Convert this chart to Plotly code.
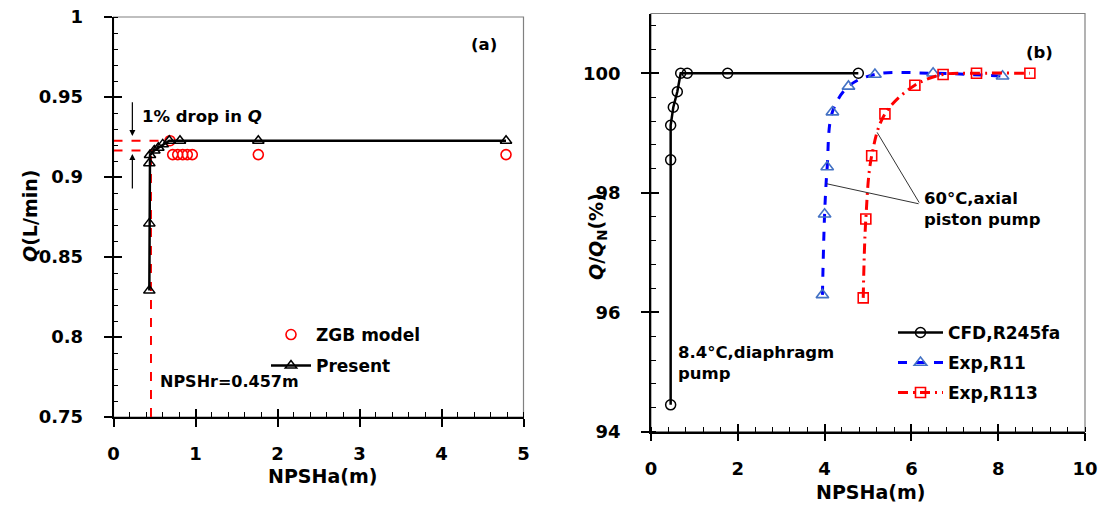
import plotly.graph_objects as go

# ---------------- data: panel (a) ----------------
present_x = [0.437, 0.437, 0.437, 0.445, 0.498, 0.547, 0.600, 0.680, 0.811, 1.766, 4.787]
present_q = [0.829, 0.871, 0.9086, 0.9137, 0.9166, 0.9183, 0.9204, 0.9227, 0.9227, 0.9227, 0.9227]
zgb_x = [0.689, 0.722, 0.783, 0.844, 0.900, 0.961, 1.766, 4.787]
zgb_q = [0.9227, 0.914, 0.914, 0.914, 0.914, 0.914, 0.914, 0.914]

# reference lines (a)
q_nominal = 0.9227
q_drop = 0.9165
npshr = 0.457
ref_upper_x = [0.0, 0.65]
ref_lower_x = [0.0, 0.48]
ref_vert_q = [0.75, q_drop]

# ---------------- data: panel (b) ----------------
cfd_x = [0.453, 0.453, 0.453, 0.514, 0.606, 0.684, 0.836, 1.766, 4.777]
cfd_q = [94.45, 98.55, 99.13, 99.43, 99.69, 100.0, 100.0, 100.0, 100.0]
r11_x = [3.95, 4.00, 4.06, 4.18, 4.55, 5.16, 6.50, 8.10]
r11_q = [96.29, 97.64, 98.43, 99.35, 99.78, 99.98, 100.0, 99.95]
r113_x = [4.89, 4.95, 5.085, 5.39, 6.08, 6.73, 7.50, 8.73]
r113_q = [96.24, 97.56, 98.62, 99.32, 99.80, 99.98, 100.0, 100.0]

FONT = "DejaVu Sans"
W, H = 1103, 507

fig = go.Figure()

# panel (a) reference lines
fig.add_trace(go.Scatter(x=ref_upper_x, y=[q_nominal, q_nominal], mode="lines",
                         line=dict(color="red", width=2, dash="dash"), showlegend=False,
                         xaxis="x", yaxis="y"))
fig.add_trace(go.Scatter(x=ref_lower_x, y=[q_drop, q_drop], mode="lines",
                         line=dict(color="red", width=2, dash="dash"), showlegend=False,
                         xaxis="x", yaxis="y"))
fig.add_trace(go.Scatter(x=[npshr, npshr], y=ref_vert_q, mode="lines",
                         line=dict(color="red", width=2, dash="dash"), showlegend=False,
                         xaxis="x", yaxis="y"))

fig.add_trace(go.Scatter(x=zgb_x, y=zgb_q, mode="markers", name="ZGB model",
                         marker=dict(symbol="circle-open", size=10, color="red", line=dict(width=1.6)),
                         xaxis="x", yaxis="y", legend="legend"))
fig.add_trace(go.Scatter(x=present_x, y=present_q, mode="lines+markers", name="Present",
                         line=dict(color="black", width=2.5),
                         marker=dict(symbol="triangle-up-open", size=10, color="black", line=dict(width=1.5)),
                         xaxis="x", yaxis="y", legend="legend2"))

# panel (b)
fig.add_trace(go.Scatter(x=cfd_x, y=cfd_q, mode="lines+markers", name="CFD,R245fa",
                         line=dict(color="black", width=2.5),
                         marker=dict(symbol="circle-open", size=10, color="black", line=dict(width=1.5)),
                         xaxis="x2", yaxis="y2", legend="legend3"))
fig.add_trace(go.Scatter(x=r11_x, y=r11_q, mode="lines+markers", name="Exp,R11",
                         line=dict(color="#0000ff", width=3, dash="dash", shape="spline"),
                         marker=dict(symbol="triangle-up-open", size=11, color="#4472c4", line=dict(width=1.6)),
                         xaxis="x2", yaxis="y2", legend="legend4"))
fig.add_trace(go.Scatter(x=r113_x, y=r113_q, mode="lines+markers", name="Exp,R113",
                         line=dict(color="#ff0000", width=3, dash="10px,5px,2px,5px", shape="spline"),
                         marker=dict(symbol="square-open", size=10, color="#ff0000", line=dict(width=1.6)),
                         xaxis="x2", yaxis="y2", legend="legend5"))

# empty traces so overlay tick axes render
fig.add_trace(go.Scatter(x=[None], y=[None], xaxis="x3", yaxis="y3", showlegend=False, hoverinfo="skip"))
fig.add_trace(go.Scatter(x=[None], y=[None], xaxis="x4", yaxis="y4", showlegend=False, hoverinfo="skip"))

tickfont = dict(family=FONT, size=18, color="black", weight="bold")


def main_axis(domain, rng, dtick, minor_dtick, standoff):
    return dict(domain=domain, range=rng, dtick=dtick, tick0=rng[0], showline=True,
                linecolor="black", linewidth=1.5, ticks="outside", ticklen=8, tickwidth=1.5,
                tickcolor="black", showgrid=False, zeroline=False, tickfont=tickfont,
                ticklabelstandoff=standoff, automargin=False,
                minor=dict(ticks="inside", dtick=minor_dtick, ticklen=5, tickwidth=1.3,
                           tickcolor="black", showgrid=False))


def over_axis(over, anchor, rng, dtick):
    return dict(overlaying=over, anchor=anchor, range=rng, dtick=dtick, tick0=rng[0],
                showline=False, ticks="inside", ticklen=8, tickwidth=1.5, tickcolor="black",
                showticklabels=False, showgrid=False, zeroline=False, automargin=False)


xa_dom = [113.5 / W, 523.5 / W]
ya_dom = [(H - 417) / H, (H - 17) / H]
xb_dom = [651 / W, 1085 / W]
yb_dom = [(H - 431.7) / H, (H - 13.5) / H]

xa = main_axis(xa_dom, [0, 5], 1, 0.2, 12); xa["anchor"] = "y"
ya = main_axis(ya_dom, [0.75, 1], 0.05, 0.01, 17); ya["anchor"] = "x"
xb = main_axis(xb_dom, [0, 10], 2, 0.4, 12); xb["anchor"] = "y2"
yb = main_axis(yb_dom, [94, 101], 2, 0.4, 17); yb["anchor"] = "x2"

x3 = over_axis("x", "y3", [0, 5], 1)
y3 = over_axis("y", "x3", [0.75, 1], 0.05)
x4 = over_axis("x2", "y4", [0, 10], 2)
y4 = over_axis("y2", "x4", [94, 101], 2)

legfont = dict(family=FONT, size=17, color="black", weight="bold")


def leg(px, py, iw):
    return dict(x=px / W, y=(H - py) / H, xanchor="left", yanchor="middle",
                bgcolor="rgba(0,0,0,0)", borderwidth=0, font=legfont, itemwidth=iw)


txt = dict(family=FONT, size=16.5, color="black", weight="bold")
ttl = dict(family=FONT, size=19, color="black", weight="bold")
annotations = [
    dict(x=4.52, y=0.983, xref="x", yref="y", text="(a)", showarrow=False, font=txt),
    dict(x=0.32, y=0.938, xref="x", yref="y", text="1% drop in <i>Q</i>", showarrow=False,
         font=txt, xanchor="left"),
    dict(x=0.54, y=0.772, xref="x", yref="y", text="NPSHr=0.457m", showarrow=False,
         font=dict(family=FONT, size=16, color="black", weight="bold"), xanchor="left"),
    dict(x=0.23, y=0.9256, ax=0.23, ay=0.9477, xref="x", yref="y", axref="x", ayref="y",
         text="", showarrow=True, arrowhead=2, arrowsize=1, arrowwidth=1.2, arrowcolor="black"),
    dict(x=0.23, y=0.9144, ax=0.23, ay=0.8919, xref="x", yref="y", axref="x", ayref="y",
         text="", showarrow=True, arrowhead=2, arrowsize=1, arrowwidth=1.2, arrowcolor="black"),
    dict(x=8.96, y=100.35, xref="x2", yref="y2", text="(b)", showarrow=False, font=txt),
    dict(x=6.24, y=97.72, xref="x2", yref="y2", text="60°C,axial<br>piston pump", showarrow=False,
         font=txt, xanchor="left", align="left"),
    dict(x=0.576, y=95.15, xref="x2", yref="y2", text="8.4°C,diaphragm<br>pump", showarrow=False,
         font=txt, xanchor="left", align="left"),
    dict(x=4.05, y=98.15, ax=6.2, ay=97.81, xref="x2", yref="y2", axref="x2", ayref="y2",
         text="", showarrow=True, arrowhead=0, arrowwidth=1, arrowcolor="#333333", standoff=0),
    dict(x=5.21, y=99.01, ax=6.2, ay=97.81, xref="x2", yref="y2", axref="x2", ayref="y2",
         text="", showarrow=True, arrowhead=0, arrowwidth=1, arrowcolor="#333333", standoff=0),
    # axis titles
    dict(x=30 / W, y=(H - 216) / H, xref="paper", yref="paper", text="<i>Q</i>(L/min)",
         textangle=-90, showarrow=False, font=ttl, xanchor="center", yanchor="middle"),
    dict(x=322 / W, y=(H - 476) / H, xref="paper", yref="paper", text="NPSHa(m)",
         showarrow=False, font=ttl, xanchor="center", yanchor="middle"),
    dict(x=598 / W, y=(H - 237) / H, xref="paper", yref="paper",
         text="<i>Q</i>/<i>Q</i><sub>N</sub>(%)", textangle=-90, showarrow=False,
         font=ttl, xanchor="center", yanchor="middle"),
    dict(x=870 / W, y=(H - 492) / H, xref="paper", yref="paper", text="NPSHa(m)",
         showarrow=False, font=ttl, xanchor="center", yanchor="middle"),
]

shapes = [
    dict(type="rect", xref="x domain", yref="y domain", x0=0, x1=1, y0=0, y1=1,
         line=dict(color="#808080", width=1.2), layer="below"),
    dict(type="rect", xref="x2 domain", yref="y2 domain", x0=0, x1=1, y0=0, y1=1,
         line=dict(color="#808080", width=1.2), layer="below"),
]

fig.update_layout(
    width=W, height=H, margin=dict(l=0, r=0, t=0, b=0),
    paper_bgcolor="white", plot_bgcolor="white",
    xaxis=xa, yaxis=ya, xaxis2=xb, yaxis2=yb,
    xaxis3=x3, yaxis3=y3, xaxis4=x4, yaxis4=y4,
    legend=leg(266, 335, 40), legend2=leg(266, 366, 40),
    legend3=leg(893, 333, 45), legend4=leg(893, 363, 45), legend5=leg(893, 393, 45),
    annotations=annotations, shapes=shapes,
    font=dict(family=FONT, color="black"),
)

fig.write_html("out.html", config={"displayModeBar": False},
               post_script="document.body.style.margin='0px';document.body.style.overflow='hidden';")
